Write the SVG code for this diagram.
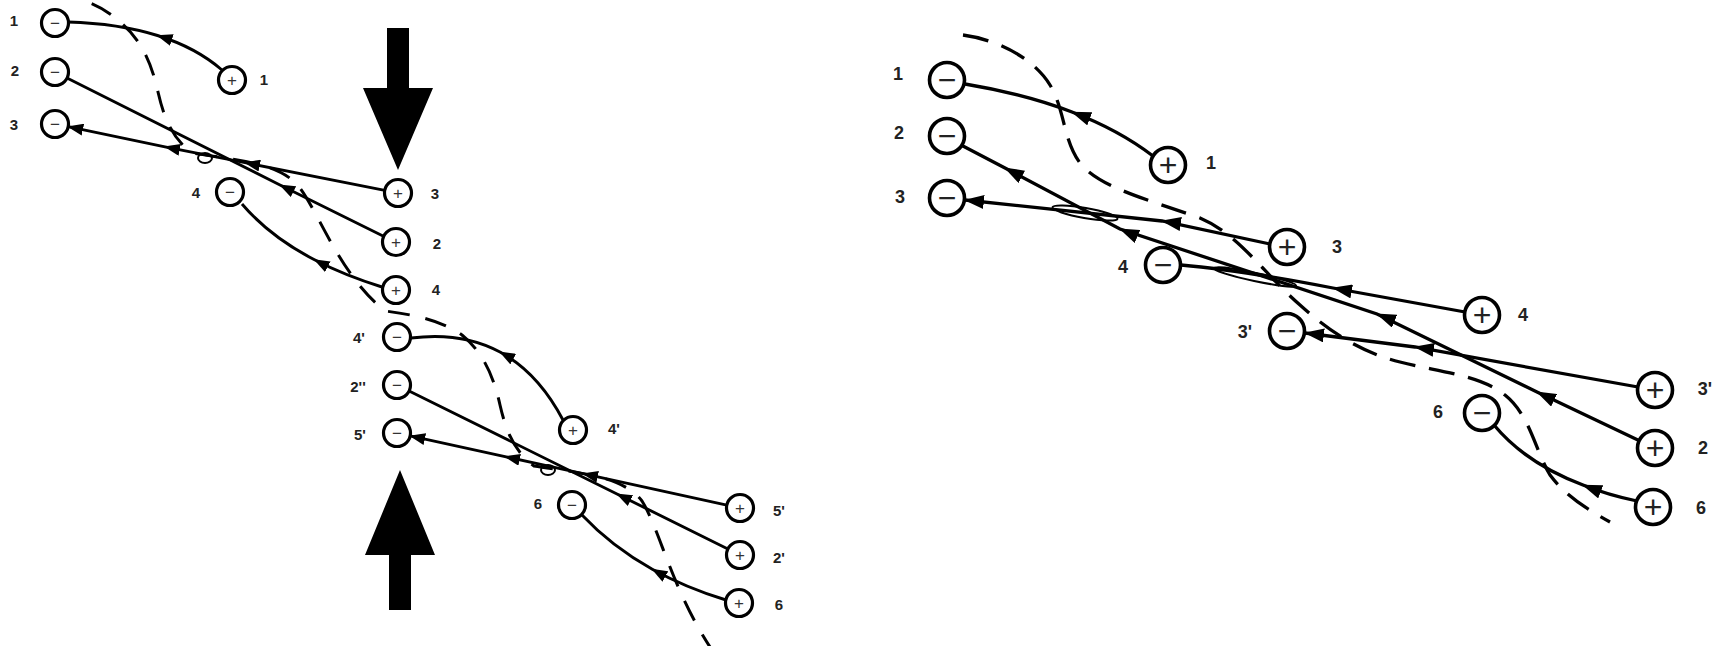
<svg xmlns="http://www.w3.org/2000/svg" width="1735" height="646" viewBox="0 0 1735 646">
<style>
  .bg{fill:#fff}
  .nl circle{fill:#fff;stroke:#000;stroke-width:3.2}
  .nr circle{fill:#fff;stroke:#000;stroke-width:3.6}
  .sl{font-family:"Liberation Sans",Arial,sans-serif;font-size:17px;fill:#333;text-anchor:middle;dominant-baseline:central}
  .sr{font-family:"Liberation Sans",Arial,sans-serif;font-size:32px;fill:#222;text-anchor:middle;dominant-baseline:central}
  .ll{font-family:"Liberation Sans",Arial,sans-serif;font-size:15px;font-weight:bold;fill:#222;text-anchor:middle;dominant-baseline:central}
  .lr{font-family:"Liberation Sans",Arial,sans-serif;font-size:18px;font-weight:bold;fill:#222;text-anchor:middle;dominant-baseline:central}
  .cl{fill:none;stroke:#000;stroke-width:2.9;marker-mid:url(#ahl)}
  .cr{fill:none;stroke:#000;stroke-width:3.3;marker-mid:url(#ahr)}
  .el{marker-end:url(#ahl)}
  .er{marker-end:url(#ahr)}
  .dl{fill:none;stroke:#000;stroke-width:3;stroke-dasharray:22 16}
  .dr{fill:none;stroke:#000;stroke-width:3.3;stroke-dasharray:26 14}
  .tw{fill:none;stroke:#000;stroke-width:2}
</style>
<defs>
  <marker id="ahl" viewBox="0 0 16 12" refX="15" refY="6" markerWidth="16" markerHeight="12" markerUnits="userSpaceOnUse" orient="auto"><path d="M0,0 L16,6 L0,12 z" fill="#000"/></marker>
  <marker id="ahr" viewBox="0 0 20 14" refX="19" refY="7" markerWidth="20" markerHeight="14" markerUnits="userSpaceOnUse" orient="auto"><path d="M0,0 L20,7 L0,14 z" fill="#000"/></marker>
</defs>
<rect class="bg" x="0" y="0" width="1735" height="646"/>

<g id="connectors">
  <!-- left diagram, upper cluster -->
  <path class="cl" d="M222,70 Q196,47.5 157.5,35.5 Q119,23.5 68,22"/>
  <path class="cl" d="M383,236 L280,185 L67,78"/>
  <path class="cl el" d="M384.8,190.4 L245,162.7 L165,146.8 L68.2,126.6"/>
  <path class="cl" d="M382,287 Q344.4,275.4 314.5,259.8 Q269.6,236.4 242,204"/>
  <!-- left diagram, lower cluster -->
  <path class="cl" d="M563,420 Q538,372.5 500,352 Q462,331.5 411,338"/>
  <path class="cl" d="M727.9,549 L617,494 L409.1,391"/>
  <path class="cl el" d="M726.8,505.1 L583,473.7 L505,456.6 L410.2,435.9"/>
  <path class="cl" d="M726,600 Q685.5,587.6 652.3,569.2 Q611.7,546.6 582,515"/>
  <ellipse class="tw" cx="205" cy="158" rx="7" ry="5"/>
  <ellipse class="tw" cx="548" cy="470" rx="7" ry="5"/>
  <path class="dl" d="M55,-6 C85,-2 105,8 120,22 C142,40 152,65 158,92 C164,118 172,138 192,153 C235,160 280,162 300,188 C320,215 340,275 385,311 C417,315 442,321 462,335 C484,353 494,378 500,405 C506,431 514,451 534,466 C577,473 622,475 642,501 C660,530 672,590 712,650"/>
  <!-- right diagram -->
  <path class="cr" d="M1153,156 Q1119,130 1072,112 Q1025,94 965,84"/>
  <path class="cr" d="M1640,441 L1537,392 L1377,314 L1120,229 L1005,168 L961,145"/>
  <path class="cr er" d="M1270,244 L1162,221 L965,200"/>
  <path class="cr" d="M1465,312 L1333,288 Q1240,270 1181,265"/>
  <path class="cr er" d="M1638,387 L1415,347 L1305,333"/>
  <path class="cr" d="M1637,501 Q1608,495 1583,485 Q1526,463.5 1494,425"/>
  <ellipse class="tw" cx="1085" cy="213" rx="33" ry="5" transform="rotate(10 1085 213)"/>
  <ellipse class="tw" cx="1255" cy="277" rx="42" ry="4" transform="rotate(12 1255 277)"/>
  <path class="dr" d="M963,35 C1000,40 1035,60 1050,85 C1065,110 1063,140 1080,163 C1100,188 1150,200 1200,218 C1240,235 1262,272 1300,305 C1330,332 1360,352 1400,362 C1440,372 1480,375 1505,395 C1530,415 1535,450 1550,475 C1565,495 1585,508 1610,522"/>
</g>

<g id="compression-arrows">
  <polygon points="387,28 409,28 409,88 433,88 398,170 363,88 387,88" fill="#000"/>
  <polygon points="400,470 435,555 411,555 411,610 389,610 389,555 365,555" fill="#000"/>
</g>

<!-- left diagram, upper cluster nodes -->
<g id="L-1minus" class="nl"><circle cx="55" cy="23" r="13.5"/><text class="sl" x="55" y="23">−</text><text class="ll" x="14" y="20">1</text></g>
<g id="L-2minus" class="nl"><circle cx="55" cy="72" r="13.5"/><text class="sl" x="55" y="72">−</text><text class="ll" x="15" y="70">2</text></g>
<g id="L-3minus" class="nl"><circle cx="55" cy="124" r="13.5"/><text class="sl" x="55" y="124">−</text><text class="ll" x="14" y="124">3</text></g>
<g id="L-1plus" class="nl"><circle cx="232" cy="80" r="13.5"/><text class="sl" x="232" y="80">+</text><text class="ll" x="264" y="79">1</text></g>
<g id="L-4minus" class="nl"><circle cx="230" cy="192" r="13.5"/><text class="sl" x="230" y="192">−</text><text class="ll" x="196" y="192">4</text></g>
<g id="L-3plus" class="nl"><circle cx="398" cy="193" r="13.5"/><text class="sl" x="398" y="193">+</text><text class="ll" x="435" y="193">3</text></g>
<g id="L-2plus" class="nl"><circle cx="396" cy="242" r="13.5"/><text class="sl" x="396" y="242">+</text><text class="ll" x="437" y="243">2</text></g>
<g id="L-4plus" class="nl"><circle cx="396" cy="290" r="13.5"/><text class="sl" x="396" y="290">+</text><text class="ll" x="436" y="289">4</text></g>

<!-- left diagram, lower cluster nodes -->
<g id="L-4pminus" class="nl"><circle cx="397" cy="337" r="13.5"/><text class="sl" x="397" y="337">−</text><text class="ll" x="359" y="337">4'</text></g>
<g id="L-2ppminus" class="nl"><circle cx="397" cy="385" r="13.5"/><text class="sl" x="397" y="385">−</text><text class="ll" x="358" y="386">2''</text></g>
<g id="L-5pminus" class="nl"><circle cx="397" cy="433" r="13.5"/><text class="sl" x="397" y="433">−</text><text class="ll" x="360" y="434">5'</text></g>
<g id="L-4pplus" class="nl"><circle cx="573" cy="430" r="13.5"/><text class="sl" x="573" y="430">+</text><text class="ll" x="614" y="428">4'</text></g>
<g id="L-6minus" class="nl"><circle cx="572" cy="505" r="13.5"/><text class="sl" x="572" y="505">−</text><text class="ll" x="538" y="503">6</text></g>
<g id="L-5pplus" class="nl"><circle cx="740" cy="508" r="13.5"/><text class="sl" x="740" y="508">+</text><text class="ll" x="779" y="510">5'</text></g>
<g id="L-2pplus" class="nl"><circle cx="740" cy="555" r="13.5"/><text class="sl" x="740" y="555">+</text><text class="ll" x="779" y="557">2'</text></g>
<g id="L-6plus" class="nl"><circle cx="739" cy="603" r="13.5"/><text class="sl" x="739" y="603">+</text><text class="ll" x="779" y="604">6</text></g>

<!-- right diagram nodes -->
<g id="R-1minus" class="nr"><circle cx="947" cy="80" r="17.5"/><text class="sr" x="947" y="80">−</text><text class="lr" x="898" y="74">1</text></g>
<g id="R-2minus" class="nr"><circle cx="947" cy="136" r="17.5"/><text class="sr" x="947" y="136">−</text><text class="lr" x="899" y="133">2</text></g>
<g id="R-3minus" class="nr"><circle cx="947" cy="198" r="17.5"/><text class="sr" x="947" y="198">−</text><text class="lr" x="900" y="197">3</text></g>
<g id="R-1plus" class="nr"><circle cx="1168" cy="165" r="17.5"/><text class="sr" x="1168" y="165">+</text><text class="lr" x="1211" y="163">1</text></g>
<g id="R-3plus" class="nr"><circle cx="1287" cy="247" r="17.5"/><text class="sr" x="1287" y="247">+</text><text class="lr" x="1337" y="247">3</text></g>
<g id="R-4minus" class="nr"><circle cx="1163" cy="265" r="17.5"/><text class="sr" x="1163" y="265">−</text><text class="lr" x="1123" y="267">4</text></g>
<g id="R-4plus" class="nr"><circle cx="1482" cy="315" r="17.5"/><text class="sr" x="1482" y="315">+</text><text class="lr" x="1523" y="315">4</text></g>
<g id="R-3pminus" class="nr"><circle cx="1287" cy="331" r="17.5"/><text class="sr" x="1287" y="331">−</text><text class="lr" x="1245" y="332">3'</text></g>
<g id="R-6minus" class="nr"><circle cx="1482" cy="413" r="17.5"/><text class="sr" x="1482" y="413">−</text><text class="lr" x="1438" y="412">6</text></g>
<g id="R-3pplus" class="nr"><circle cx="1655" cy="390" r="17.5"/><text class="sr" x="1655" y="390">+</text><text class="lr" x="1705" y="389">3'</text></g>
<g id="R-2plus" class="nr"><circle cx="1655" cy="448" r="17.5"/><text class="sr" x="1655" y="448">+</text><text class="lr" x="1703" y="448">2</text></g>
<g id="R-6plus" class="nr"><circle cx="1653" cy="507" r="17.5"/><text class="sr" x="1653" y="507">+</text><text class="lr" x="1701" y="508">6</text></g>
</svg>
